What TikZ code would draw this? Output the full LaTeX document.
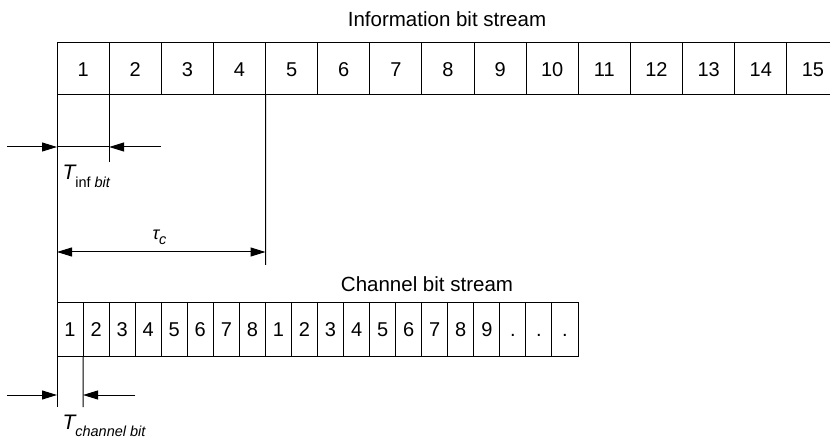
\documentclass[tikz,border=0pt]{standalone}
\usepackage{fontspec}
\setmainfont{Liberation Sans}
\usetikzlibrary{arrows.meta}
\begin{document}
\begin{tikzpicture}[x=1pt,y=-1pt,line width=1pt,
  cell/.style={draw,inner sep=0pt,outer sep=0pt,anchor=north west,
    text height=14.3pt,text depth=0pt,
    font=\fontsize{20}{22}\selectfont},
  icell/.style={cell,minimum width=52.13pt,minimum height=52pt},
  ccell/.style={cell,minimum width=26.05pt,minimum height=53pt},
  title/.style={font=\fontsize{20.5}{22}\selectfont,inner sep=0pt},
  lbl/.style={anchor=base west,inner sep=0pt},
  dim/.style={-{Triangle[length=15pt,width=9pt]}},
  dimboth/.style={{Triangle[length=15pt,width=9pt]}-{Triangle[length=15pt,width=9pt]}}]
\useasboundingbox (0,0) rectangle (830,438);

% information bit stream
\node[title] (ititle) at (447,19) {Information bit stream};
\foreach \k in {1,...,15}
  \node[icell] (i\k) at ({57+(\k-1)*52.13},43) {\k};

% channel bit stream
\node[title] (ctitle) at (427,284) {Channel bit stream};
\foreach \t [count=\k] in {1,2,3,4,5,6,7,8,1,2,3,4,5,6,7,8,9,.,.,.}
  \node[ccell] (c\k) at ({57+(\k-1)*26.05},303) {\t};

% extension lines
\coordinate (lbot) at (57,407);
\coordinate (ibit) at (109.13,162);
\coordinate (tauend) at (265.5,265);
\coordinate (cbit) at (83.05,407);
\draw (i1.south west) -- (c1.north west);
\draw (c1.south west) -- (lbot);
\draw (i1.south east) -- (ibit);
\draw (i4.south east) -- (tauend);
\draw (c1.south east) -- (cbit);

% T_inf bit
\coordinate (ia) at (7,147);
\coordinate (ib) at (57,147);
\coordinate (ic) at (109.13,147);
\coordinate (id) at (161,147);
\draw[dim] (ia) -- (ib);
\draw (ib) -- (ic);
\draw[dim] (id) -- (ic);
\node[lbl] (tinf) at (62,180)
  {\fontsize{21}{21}\selectfont\itshape T\fontsize{14.5}{14.5}\selectfont\raisebox{-8pt}{\upshape inf \itshape bit}};

% tau_c
\coordinate (ta) at (57,252);
\coordinate (tb) at (265.5,252);
\draw[dimboth] (ta) -- (tb);
\node[lbl] (tau) at (152,240)
  {\fontsize{18}{18}\selectfont\itshape τ\fontsize{14.5}{14.5}\selectfont\raisebox{-5pt}{c}};

% T_channel bit
\coordinate (ca) at (7,395);
\coordinate (cb) at (57,395);
\coordinate (cc) at (83.05,395);
\coordinate (cd) at (135,395);
\draw[dim] (ca) -- (cb);
\draw[dim] (cd) -- (cc);
\node[lbl] (tch) at (62,429)
  {\fontsize{21}{21}\selectfont\itshape T\fontsize{14.5}{14.5}\selectfont\raisebox{-7pt}{channel bit}};
\end{tikzpicture}
\end{document}
